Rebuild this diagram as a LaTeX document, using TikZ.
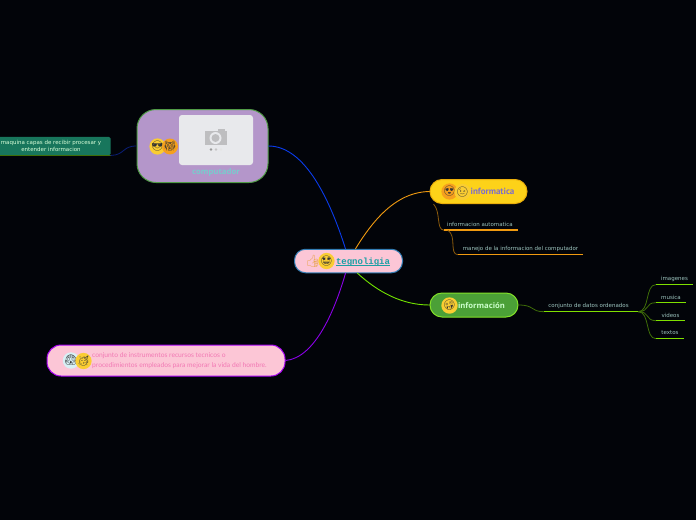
\documentclass[tikz,border=0pt]{standalone}
\usepackage{fontspec}
\setmainfont{DejaVu Sans}
\newfontfamily\emojifont{Noto Emoji}
\newfontfamily\monofnt{Liberation Mono}
\newfontfamily\condfnt{PT Sans}
\newfontfamily\openfnt{Open Sans}
\newfontfamily\latofnt{Lato}
\definecolor{bgc}{HTML}{020409}
\definecolor{orangeL}{HTML}{F09A10}
\definecolor{orangeD}{HTML}{8A5A0C}
\definecolor{limeL}{HTML}{7FE000}
\definecolor{limeD}{HTML}{3F6E08}
\definecolor{leaftxt}{HTML}{9CC4BE}
\definecolor{pinkF}{RGB}{252,198,214}
\definecolor{photoF}{RGB}{232,233,236}
\definecolor{camG}{RGB}{190,190,192}
\definecolor{thumbC}{RGB}{232,165,80}
\definecolor{emoY}{RGB}{250,205,50}
\definecolor{emoO}{RGB}{245,160,30}
\definecolor{emoW}{RGB}{215,240,245}
\definecolor{tealT}{RGB}{28,160,165}
\tikzset{
 x=1pt,y=-1pt,
 pill/.style={draw,line width=1pt,rounded corners=11pt,inner sep=0pt},
 leafnode/.style={inner sep=0pt,text=leaftxt,font=\fontsize{5.5}{6.5}\selectfont,align=center},
 leafline/.style={line width=1.5pt},
 branch/.style={line width=.9pt,line cap=round},
 sub/.style={line width=.8pt},
 emo/.style={circle,fill=#1,inner sep=0pt,minimum size=11.5pt,font=\emojifont\fontsize{10}{10}\selectfont,text=black!80},
 emo/.default=emoY
}
\begin{document}
\begin{tikzpicture}
\fill[bgc] (0,0) rectangle (696,520);
\useasboundingbox (0,0) rectangle (696,520);

% nodes
\node[pill,draw={rgb,255:red,50;green,125;blue,180},fill=pinkF,minimum width=108pt,minimum height=23.5pt] (central) at (348.5,261) {};
\node[font=\monofnt\bfseries\fontsize{9}{9}\selectfont,text=tealT,inner sep=0pt,anchor=base] (centraltxt) at (363,264) {tegnoligia};
\draw[tealT,line width=.7pt] ([yshift=-1.3pt]centraltxt.base west) -- ([yshift=-1.3pt]centraltxt.base east);
\node[inner sep=0pt,font=\emojifont\fontsize{12}{12}\selectfont,text=thumbC] (e1) at (313,261.5) {👍};
\node[emo] (e2) at (326.5,261) {🤩};

\node[draw={rgb,255:red,80;green,155;blue,70},line width=1pt,fill={rgb,255:red,180;green,150;blue,202},rounded corners=19pt,minimum width=131pt,minimum height=73pt,inner sep=0pt] (comp) at (202.5,146) {};
\node[fill=photoF,rounded corners=3pt,minimum width=74pt,minimum height=50pt,inner sep=0pt] (photo) at (216,140) {};
% camera icon
\fill[camG] (204.5,131) rectangle (226.5,145);
\fill[camG] (218,129) rectangle (225,131);
\fill[photoF] (215.5,138) circle (6);
\fill[camG] (215.5,138) circle (4);
\fill[gray!80!white] (211,149.5) circle (1.3);
\fill[gray!45!white] (216,149.5) circle (1.3);
\fill[gray!20!white] (221,149.5) circle (1.3);
\node[emo] (e3) at (157.5,146.5) {😎};
\node[emo=emoO] (e4) at (170,146.5) {🙀};
\node[font=\openfnt\bfseries\fontsize{7.8}{8}\selectfont,text={rgb,255:red,120;green,205;blue,205}] (comptxt) at (216,172) {computador};

\node[fill={rgb,255:red,24;green,118;blue,92},rounded corners=1.5pt,minimum width=112pt,minimum height=18.5pt,inner sep=0pt,font=\fontsize{5.5}{7}\selectfont,text=white!85!green,align=center] (leftn) at (54.5,146) {maquina capas de recibir procesar y\hspace*{7pt}\\entender informacion\hspace*{7pt}};
\draw[limeD,line width=1.2pt] (leftn.south west) -- (leftn.south east);

\node[pill,draw={rgb,255:red,165;green,0;blue,240},fill=pinkF,rounded corners=14pt,minimum width=238pt,minimum height=31pt] (bottom) at (166,360.5) {};
\node[font=\latofnt\fontsize{6.7}{10}\selectfont,text={rgb,255:red,242;green,120;blue,180},align=left,anchor=west,inner sep=0pt] (bottomtxt) at (92,360.5) {conjunto de instrumentos recursos tecnicos o\\procedimientos empleados para mejorar la vida del hombre.};
\node[emo=emoW] (e5) at (71,360.5) {😱};
\node[emo] (e6) at (83.5,361) {🥳};

\node[pill,draw={rgb,255:red,235;green,175;blue,10},fill={rgb,255:red,253;green,210;blue,25},rounded corners=12pt,minimum width=97pt,minimum height=24pt] (info) at (478.5,191.5) {};
\node[font=\condfnt\bfseries\fontsize{9}{9}\selectfont,text={rgb,255:red,125;green,110;blue,205}] (infotxt) at (492.5,191.5) {informatica};
\node[emo=emoO] (e7) at (449.5,191.5) {😍};
\node[emo] (e8) at (462.5,192) {😉};

\node[pill,draw={rgb,255:red,130;green,225;blue,40},fill={rgb,255:red,75;green,160;blue,55},rounded corners=12pt,minimum width=88pt,minimum height=24pt] (inf2) at (474,305) {};
\node[font=\openfnt\bfseries\fontsize{7.7}{8}\selectfont,text=white!80!green] (inf2txt) at (481.5,305.5) {información};
\node[emo] (e9) at (449.5,305.5) {🤪};

\node[leafnode,minimum width=74pt,minimum height=12pt] (l1) at (481,224) {informacion automatica\hspace*{2pt}};
\node[leafnode,minimum width=125pt,minimum height=12pt] (l2) at (520.5,248.5) {manejo de la informacion del computador};
\node[leafnode,minimum width=94pt,minimum height=11pt] (c1) at (591,306) {conjunto de datos ordenados\hspace*{5pt}};
\node[leafnode,minimum width=37pt,minimum height=11pt] (t1) at (674.5,279) {imagenes};
\node[leafnode,minimum width=30pt,minimum height=11pt] (t2) at (671,297) {musica};
\node[leafnode,minimum width=29pt,minimum height=11pt] (t3) at (670.5,315) {videos};
\node[leafnode,minimum width=28pt,minimum height=11pt] (t4) at (670,333) {textos};

% underlines
\draw[orangeL,leafline] (l1.south west) -- (l1.south east);
\draw[orangeL,leafline] (l2.south west) -- (l2.south east);
\foreach \n in {c1,t1,t2,t3,t4}\draw[limeL,leafline] (\n.south west) -- (\n.south east);

% connectors
\draw[branch,draw={rgb,255:red,10;green,60;blue,235}] (comp.east) .. controls (305,146) and (330,200) .. ([xshift=-3pt]central.north);
\draw[branch,draw=orangeL] ([xshift=7pt]central.north) .. controls (372,222) and (395,192) .. (info.west);
\draw[branch,draw=limeL!90!green] ([xshift=9pt]central.south) .. controls (378,292) and (402,305) .. (inf2.west);
\draw[branch,draw={rgb,255:red,140;green,0;blue,235}] (bottom.east) .. controls (315,358) and (335,310) .. ([xshift=-3pt]central.south);
\draw[sub,draw={rgb,255:red,10;green,30;blue,120}] (comp.west) .. controls (122,146) and (125,155) .. (leftn.south east);
\draw[sub,draw=orangeD] ([xshift=-45pt]info.south) .. controls (441,212) and (436,229.5) .. (l1.south west);
\draw[sub,draw=orangeD] ([xshift=4pt]l1.south west) .. controls (457,236) and (449,254) .. (l2.south west);
\draw[sub,draw=limeD] (inf2.east) .. controls (535,305) and (530,311.5) .. (c1.south west);
\foreach \n/\yy in {t1/284.5,t2/302.5,t3/320.5,t4/338.5}
 \draw[sub,draw=limeD] (c1.south east) .. controls (650,311.5) and (645,\yy) .. (\n.south west);
\end{tikzpicture}
\end{document}
